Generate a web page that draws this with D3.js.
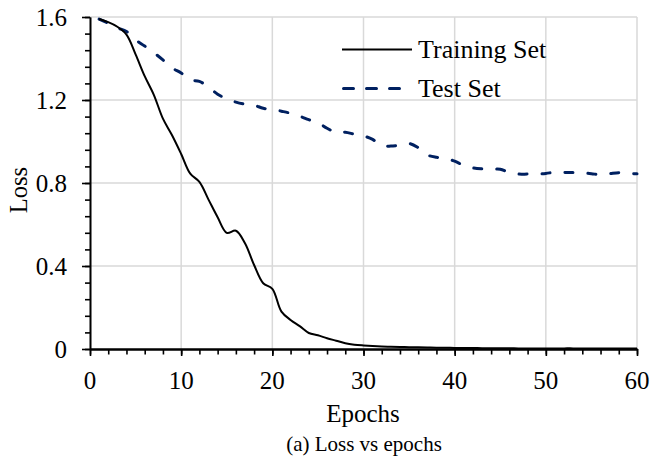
<!DOCTYPE html>
<html>
<head>
<meta charset="utf-8">
<script src="https://cdn.jsdelivr.net/npm/d3@7"></script>
<style>
  html, body { margin: 0; padding: 0; background: #fff; }
  svg { display: block; font-family: "Liberation Serif", "Times New Roman", serif; }
</style>
</head>
<body>
<svg id="chart" width="650" height="457"></svg>
<script>
// ---- data ----
const epochs = d3.range(1, 61);
const trainingLoss = [
  1.590, 1.575, 1.553, 1.515, 1.420, 1.315, 1.225, 1.110, 1.030, 0.940,
  0.845, 0.805, 0.720, 0.635, 0.560, 0.570, 0.510, 0.405, 0.317, 0.290,
  0.180, 0.140, 0.110, 0.077, 0.066, 0.052, 0.040, 0.028, 0.021, 0.017,
  0.014, 0.012, 0.011, 0.010, 0.009, 0.008, 0.007, 0.006, 0.006, 0.005,
  0.005, 0.005, 0.004, 0.004, 0.004, 0.004, 0.003, 0.003, 0.003, 0.003,
  0.003, 0.003, 0.003, 0.002, 0.002, 0.002, 0.002, 0.002, 0.002, 0.002
];
const testLoss = [
  1.590, 1.570, 1.548, 1.530, 1.490, 1.460, 1.428, 1.393, 1.355, 1.330,
  1.297, 1.290, 1.262, 1.228, 1.205, 1.190, 1.180, 1.175, 1.160, 1.155,
  1.146, 1.136, 1.122, 1.105, 1.090, 1.064, 1.043, 1.045, 1.035, 1.027,
  1.010, 0.980, 0.978, 0.983, 0.990, 0.970, 0.935, 0.924, 0.920, 0.905,
  0.885, 0.873, 0.868, 0.866, 0.866, 0.850, 0.843, 0.843, 0.843, 0.846,
  0.852, 0.851, 0.850, 0.849, 0.845, 0.840, 0.845, 0.850, 0.846, 0.844
];
const seriesNames = ["Training Set", "Test Set"];
const xTicks = [0, 10, 20, 30, 40, 50, 60];
const xMinorTicks = d3.range(0, 61, 2);
const yTicks = [0, 0.4, 0.8, 1.2, 1.6];
const yTickLabels = ["0", "0.4", "0.8", "1.2", "1.6"];
const yMinorTicks = d3.range(0, 21).map(i => +(i * 0.08).toFixed(2));
const xTitle = "Epochs";
const yTitle = "Loss";
const caption = "(a) Loss vs epochs";

// ---- layout ----
const svg = d3.select("#chart");
const mLeft = 90, mRight = 637, mTop = 17, mBottom = 349;
const x = d3.scaleLinear().domain([0, 60]).range([mLeft, mRight]);
const y = d3.scaleLinear().domain([0, 1.6]).range([mBottom, mTop]);

// gridlines
const grid = svg.append("g").attr("stroke", "#d9d9d9").attr("stroke-width", 1.5);
grid.selectAll("line.v").data(xTicks.filter(d => d > 0)).join("line").attr("class", "v")
  .attr("x1", d => x(d)).attr("x2", d => x(d)).attr("y1", y(0)).attr("y2", y(1.6));
grid.selectAll("line.h").data(yTicks.filter(d => d > 0)).join("line").attr("class", "h")
  .attr("x1", x(0)).attr("x2", x(60)).attr("y1", d => y(d)).attr("y2", d => y(d));

// y axis
const yMinorAxis = svg.append("g").attr("transform", `translate(${mLeft},0)`)
  .call(d3.axisLeft(y).tickValues(yMinorTicks).tickSize(5).tickSizeOuter(0).tickFormat(""));
const yAxis = svg.append("g").attr("transform", `translate(${mLeft},0)`)
  .call(d3.axisLeft(y).tickValues(yTicks).tickSize(8).tickSizeOuter(0).tickFormat(""));
[yMinorAxis, yAxis].forEach(g => {
  g.select(".domain").attr("stroke", "#000").attr("stroke-width", 1.6);
  g.selectAll(".tick line").attr("stroke", "#000").attr("stroke-width", 1.6);
});

// x axis
const xMinorAxis = svg.append("g").attr("transform", `translate(0,${mBottom})`)
  .call(d3.axisBottom(x).tickValues(xMinorTicks).tickSize(5.5).tickSizeOuter(0).tickFormat(""));
const xAxis = svg.append("g").attr("transform", `translate(0,${mBottom})`)
  .call(d3.axisBottom(x).tickValues(xTicks).tickSize(7).tickSizeOuter(0).tickFormat(""));
[xMinorAxis, xAxis].forEach(g => {
  g.select(".domain").attr("stroke", "#000").attr("stroke-width", 2);
  g.selectAll(".tick line").attr("stroke", "#000").attr("stroke-width", 1.6);
});

// tick labels
svg.append("g").selectAll("text").data(yTicks).join("text")
  .attr("x", 67).attr("y", d => y(d) + 9)
  .attr("text-anchor", "end").attr("font-size", 25).attr("fill", "#000")
  .text((d, i) => yTickLabels[i]);
svg.append("g").selectAll("text").data(xTicks).join("text")
  .attr("x", d => x(d)).attr("y", 389)
  .attr("text-anchor", "middle").attr("font-size", 25).attr("fill", "#000")
  .text(d => d);

// axis titles
svg.append("text").attr("x", 363).attr("y", 422).attr("text-anchor", "middle")
  .attr("font-size", 25).text(xTitle);
svg.append("text").attr("transform", "translate(27,190) rotate(-90)")
  .attr("text-anchor", "middle").attr("font-size", 24.5).text(yTitle);
svg.append("text").attr("x", 364).attr("y", 451).attr("text-anchor", "middle")
  .attr("font-size", 21).text(caption);

// lines
const line = d3.line().x((d, i) => x(epochs[i])).y(d => y(d)).curve(d3.curveCatmullRom.alpha(0.5));
svg.append("path").datum(testLoss).attr("d", line)
  .attr("fill", "none").attr("stroke", "#002060").attr("stroke-width", 3)
  .attr("stroke-dasharray", "8,15").attr("stroke-linecap", "round");
svg.append("path").datum(trainingLoss).attr("d", line)
  .attr("fill", "none").attr("stroke", "#000").attr("stroke-width", 2);

// legend
const lg = svg.append("g");
lg.append("line").attr("x1", 342).attr("x2", 412).attr("y1", 49.5).attr("y2", 49.5)
  .attr("stroke", "#000").attr("stroke-width", 2.2);
lg.append("line").attr("x1", 343.5).attr("x2", 400).attr("y1", 88.5).attr("y2", 88.5)
  .attr("stroke", "#002060").attr("stroke-width", 3)
  .attr("stroke-dasharray", "10,13").attr("stroke-linecap", "round");
lg.append("text").attr("x", 418).attr("y", 58).attr("font-size", 26).text(seriesNames[0]);
lg.append("text").attr("x", 418).attr("y", 97).attr("font-size", 26).text(seriesNames[1]);
</script>
</body>
</html>
